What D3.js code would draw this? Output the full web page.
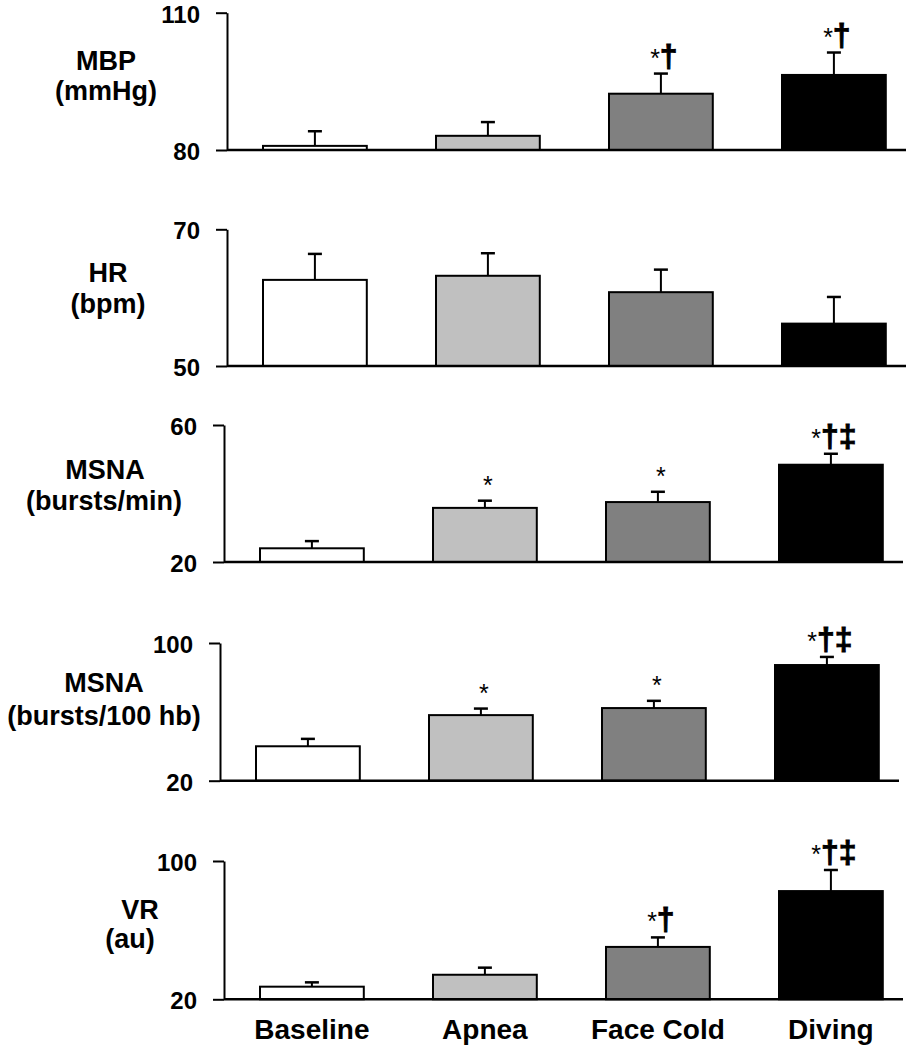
<!DOCTYPE html>
<html>
<head>
<meta charset="utf-8">
<script src="https://cdn.jsdelivr.net/npm/d3@7"></script>
<style>
  html, body { margin: 0; padding: 0; background: #fff; }
  svg { display: block; }
  text { font-family: "Liberation Sans", Arial, Helvetica, sans-serif; fill: #000; }
</style>
</head>
<body>
<svg id="chart" width="922" height="1050"></svg>
<script>
// ---------- data ----------
const categories = ["Baseline", "Apnea", "Face Cold", "Diving"];
const barColors = ["#ffffff", "#c0c0c0", "#808080", "#000000"];

const mbpValues = [80.9, 83.1, 92.3, 96.4];
const mbpErrors = [3.2, 3.0, 4.4, 4.9];
const mbpMarks = ["", "", "*†", "*†"];

const hrValues = [62.6, 63.2, 60.8, 56.2];
const hrErrors = [3.8, 3.3, 3.3, 3.9];
const hrMarks = ["", "", "", ""];

const msnaMinValues = [24.0, 35.8, 37.5, 48.4];
const msnaMinErrors = [2.1, 2.1, 3.0, 3.2];
const msnaMinMarks = ["", "*", "*", "*†‡"];

const msnaHbValues = [40.0, 58.1, 62.2, 87.2];
const msnaHbErrors = [4.3, 3.8, 4.2, 4.7];
const msnaHbMarks = ["", "*", "*", "*†‡"];

const vrValues = [27.3, 34.2, 50.3, 82.6];
const vrErrors = [2.5, 4.1, 5.5, 12.2];
const vrMarks = ["", "", "*†", "*†‡"];

const mbpTicks = [80, 110];
const hrTicks = [50, 70];
const msnaMinTicks = [20, 60];
const msnaHbTicks = [20, 100];
const vrTicks = [20, 100];

const mbpLabel = ["MBP", "(mmHg)"];
const hrLabel = ["HR", "(bpm)"];
const msnaMinLabel = ["MSNA", "(bursts/min)"];
const msnaHbLabel = ["MSNA", "(bursts/100 hb)"];
const vrLabel = ["VR", "(au)"];

// ---------- layout ----------
const panels = [
  { values: mbpValues, errors: mbpErrors, marks: mbpMarks, ticks: mbpTicks, label: mbpLabel,
    top: 12.7, bottom: 150, shift: 0, labelX: [106, 106], labelY: [70, 100] },
  { values: hrValues, errors: hrErrors, marks: hrMarks, ticks: hrTicks, label: hrLabel,
    top: 229.3, bottom: 366, shift: 0, labelX: [108, 108], labelY: [282, 313] },
  { values: msnaMinValues, errors: msnaMinErrors, marks: msnaMinMarks, ticks: msnaMinTicks, label: msnaMinLabel,
    top: 425, bottom: 562, shift: -3, labelX: [105, 104], labelY: [479, 510] },
  { values: msnaHbValues, errors: msnaHbErrors, marks: msnaHbMarks, ticks: msnaHbTicks, label: msnaHbLabel,
    top: 643, bottom: 780.7, shift: -7, labelX: [104, 104], labelY: [692, 725] },
  { values: vrValues, errors: vrErrors, marks: vrMarks, ticks: vrTicks, label: vrLabel,
    top: 861, bottom: 999.3, shift: -3, labelX: [140, 130], labelY: [919, 948] }
];

const svg = d3.select("#chart");
const axisX0 = 227;
const barStart0 = 263;
const barStep = 173;
const axisEnd0 = 906;

panels.forEach((p) => {
  const ax = axisX0 + p.shift;
  const x = d3.scaleBand()
    .domain(categories)
    .range([barStart0 + p.shift, barStart0 + p.shift + barStep * 3.6])
    .paddingInner(0.4)
    .paddingOuter(0);
  const y = d3.scaleLinear().domain([p.ticks[0], p.ticks[1]]).range([p.bottom, p.top]);

  const g = svg.append("g");

  // bars
  g.selectAll("rect.bar")
    .data(categories)
    .join("rect")
    .attr("class", "bar")
    .attr("x", d => x(d))
    .attr("width", x.bandwidth())
    .attr("y", (d, i) => y(p.values[i]))
    .attr("height", (d, i) => y(p.ticks[0]) - y(p.values[i]))
    .attr("fill", (d, i) => barColors[i])
    .attr("stroke", "#000")
    .attr("stroke-width", 2);

  // error bars (upper only)
  const cx = d => x(d) + x.bandwidth() / 2;
  g.selectAll("line.err")
    .data(categories)
    .join("line")
    .attr("class", "err")
    .attr("x1", cx).attr("x2", cx)
    .attr("y1", (d, i) => y(p.values[i]))
    .attr("y2", (d, i) => y(p.values[i] + p.errors[i]))
    .attr("stroke", "#000").attr("stroke-width", 2);
  g.selectAll("line.cap")
    .data(categories)
    .join("line")
    .attr("class", "cap")
    .attr("x1", d => cx(d) - 7).attr("x2", d => cx(d) + 7)
    .attr("y1", (d, i) => y(p.values[i] + p.errors[i]))
    .attr("y2", (d, i) => y(p.values[i] + p.errors[i]))
    .attr("stroke", "#000").attr("stroke-width", 2.5);

  // significance marks
  categories.forEach((c, i) => {
    const m = p.marks[i];
    if (!m) return;
    const t = g.append("text")
      .attr("x", cx(c) + 3)
      .attr("y", y(p.values[i] + p.errors[i]) - 7)
      .attr("text-anchor", "middle");
    Array.from(m).forEach(ch => {
      const ts = t.append("tspan").text(ch);
      if (ch === "*") ts.attr("font-size", 25).attr("font-weight", "normal");
      else ts.attr("font-size", 32).attr("font-weight", "bold")
               .attr("stroke", "#000").attr("stroke-width", 0.9);
    });
  });

  // y axis
  const yAxis = d3.axisLeft(y)
    .tickValues(p.ticks)
    .tickSize(11)
    .tickSizeOuter(0)
    .tickPadding(16)
    .tickFormat(d3.format("d"));
  const ag = g.append("g").attr("transform", `translate(${ax},0)`).call(yAxis);
  ag.select(".domain").attr("stroke", "#000").attr("stroke-width", 2);
  ag.selectAll(".tick line").attr("stroke", "#000").attr("stroke-width", 2);
  ag.selectAll(".tick text")
    .attr("font-size", 24)
    .attr("dy", "0.4em")
    .attr("font-weight", "bold")
    .attr("font-family", "'Liberation Sans', Arial, sans-serif")
    .attr("fill", "#000");

  // baseline (x axis line)
  g.append("line")
    .attr("x1", ax).attr("x2", axisEnd0 + p.shift)
    .attr("y1", y(p.ticks[0])).attr("y2", y(p.ticks[0]))
    .attr("stroke", "#000").attr("stroke-width", 2.5);

  // y label
  p.label.forEach((line, k) => {
    g.append("text")
      .attr("x", p.labelX[k])
      .attr("y", p.labelY[k])
      .attr("text-anchor", "middle")
      .attr("font-size", 27)
      .attr("font-weight", "bold")
      .text(line);
  });

  // category labels under last panel
  if (p === panels[panels.length - 1]) {
    g.selectAll("text.cat")
      .data(categories)
      .join("text")
      .attr("class", "cat")
      .attr("x", d => cx(d))
      .attr("y", 1039)
      .attr("text-anchor", "middle")
      .attr("font-size", 28)
      .attr("font-weight", "bold")
      .text(d => d);
  }
});
</script>
</body>
</html>
